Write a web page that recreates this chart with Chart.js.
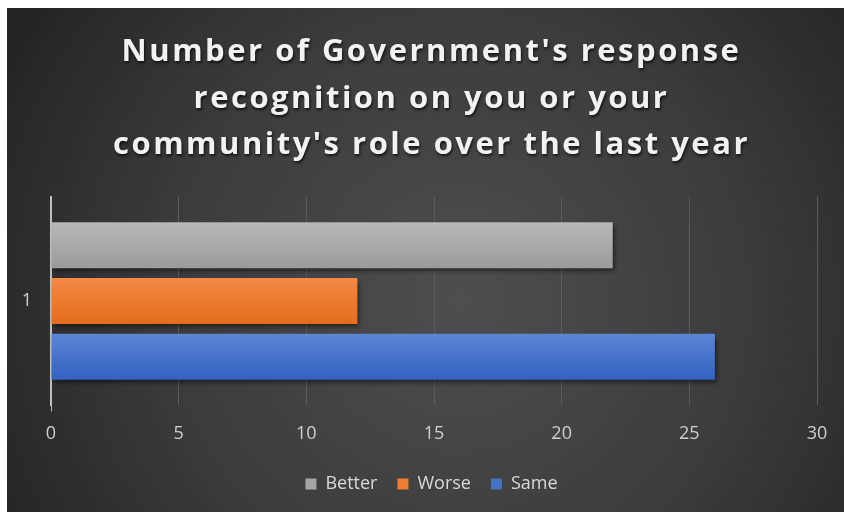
<!DOCTYPE html>
<html>
<head>
<meta charset="utf-8">
<script src="https://cdn.jsdelivr.net/npm/chart.js@4.4.1/dist/chart.umd.min.js"></script>
<style>
  html, body { margin: 0; padding: 0; background: #ffffff; }
  #c { position: absolute; left: 7px; top: 8px; }
</style>
</head>
<body>
<canvas id="c" width="837" height="504"></canvas>
<script>
// Chart content
const titleLines = [
  "Number of Government's response",
  "recognition on you or your",
  "community's role over the last year"
];
const categories = ['1'];
const seriesNames = ['Better', 'Worse', 'Same'];
const betterValues = [22];
const worseValues = [12];
const sameValues = [26];
const xTickValues = [0, 5, 10, 15, 20, 25, 30];

// Series colours: flat colour for the legend, top/bottom shades for the bar fill
const seriesColors = ['#a5a5a5', '#ed7d31', '#4472c4'];
const seriesShades = [
  ['#b8b8b8', '#9b9b9b'],
  ['#f48a45', '#e46c1c'],
  ['#5a86d4', '#3361c0']
];

const FONT = "'Open Sans', 'DejaVu Sans', sans-serif";

// Dark radial backdrop
const backdrop = {
  id: 'backdrop',
  beforeDraw(chart) {
    const { ctx, width, height } = chart;
    const g = ctx.createRadialGradient(width * 0.54, height * 0.58, 0, width * 0.54, height * 0.58, width * 0.62);
    g.addColorStop(0, '#4e4e4e');
    g.addColorStop(0.55, '#3c3c3c');
    g.addColorStop(1, '#242424');
    ctx.save();
    ctx.fillStyle = g;
    ctx.fillRect(0, 0, width, height);
    ctx.restore();
  }
};

// Vertical shading and drop shadow on each bar
const barShading = {
  id: 'barShading',
  beforeDatasetsDraw(chart) {
    const ctx = chart.ctx;
    chart.data.datasets.forEach((ds, i) => {
      const meta = chart.getDatasetMeta(i);
      meta.data.forEach(el => {
        const { y, height } = el.getProps(['y', 'height'], true);
        const top = y - height / 2, bottom = y + height / 2;
        const g = ctx.createLinearGradient(0, top, 0, bottom);
        g.addColorStop(0, seriesShades[i][0]);
        g.addColorStop(1, seriesShades[i][1]);
        el.options = Object.assign({}, el.options, { backgroundColor: g });
      });
    });
    ctx.save();
    ctx.shadowColor = 'rgba(0,0,0,0.55)';
    ctx.shadowBlur = 5;
    ctx.shadowOffsetX = 2;
    ctx.shadowOffsetY = 3;
  },
  afterDatasetsDraw(chart) {
    chart.ctx.restore();
  }
};

// Spaced, shadowed title lettering
const titleStyle = {
  id: 'titleStyle',
  afterInit(chart) {
    const tb = chart.titleBlock;
    if (!tb) return;
    const orig = tb.draw.bind(tb);
    tb.draw = function () {
      const ctx = chart.ctx;
      ctx.save();
      ctx.letterSpacing = '2.5px';
      ctx.shadowColor = 'rgba(0,0,0,0.7)';
      ctx.shadowBlur = 3;
      ctx.shadowOffsetX = 1;
      ctx.shadowOffsetY = 2;
      orig();
      ctx.restore();
    };
  }
};

const datasets = [betterValues, worseValues, sameValues].map((vals, i) => ({
  label: seriesNames[i],
  data: vals,
  backgroundColor: seriesColors[i],
  borderWidth: 0,
  categoryPercentage: 0.80,
  barPercentage: 0.825
}));

new Chart(document.getElementById('c'), {
  type: 'bar',
  data: { labels: categories, datasets },
  options: {
    indexAxis: 'y',
    responsive: false,
    animation: false,
    layout: { padding: { left: 12, right: 0, top: 0, bottom: 9 } },
    scales: {
      x: {
        min: 0,
        max: 30,
        afterBuildTicks(scale) { scale.ticks = xTickValues.map(v => ({ value: v })); },
        afterFit(scale) { scale.paddingRight = 27; scale.height -= 2; },
        grid: {
          color: '#5c5c5c',
          lineWidth: 1,
          drawTicks: true,
          tickLength: 6,
          tickColor: ctx => (ctx.index === 0 ? '#bfbfbf' : 'rgba(0,0,0,0)')
        },
        border: { display: false },
        ticks: {
          color: '#cfcfcf',
          font: { family: FONT, size: 18 },
          padding: 12,
          maxRotation: 0
        }
      },
      y: {
        afterFit(scale) { scale.width = 32; },
        grid: { display: false, drawTicks: false },
        border: { display: true, color: '#bfbfbf', width: 2 },
        ticks: {
          color: '#cfcfcf',
          font: { family: FONT, size: 18 },
          padding: 19
        }
      }
    },
    plugins: {
      title: {
        display: true,
        text: titleLines,
        color: '#f2f2f2',
        font: { family: FONT, size: 31, weight: 'bold', lineHeight: 1.5 },
        padding: { top: 21, bottom: 28 }
      },
      legend: {
        position: 'bottom',
        labels: {
          color: '#d9d9d9',
          font: { family: FONT, size: 18 },
          boxWidth: 11,
          boxHeight: 11,
          padding: 20
        }
      },
      tooltip: { enabled: false }
    }
  },
  plugins: [backdrop, barShading, titleStyle]
});
</script>
</body>
</html>
